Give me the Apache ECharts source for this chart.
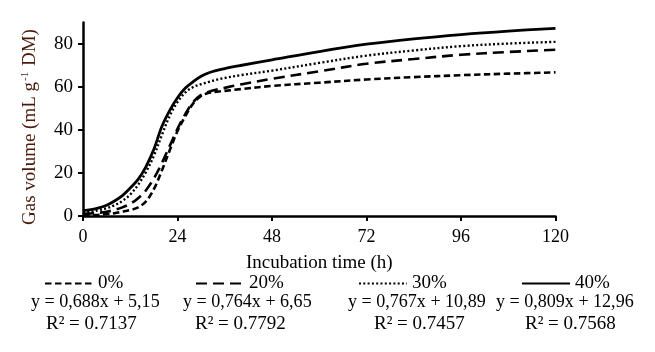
<!DOCTYPE html>
<html>
<head>
<meta charset="utf-8">
<script src="https://cdn.jsdelivr.net/npm/echarts@6/dist/echarts.min.js"></script>
<style>
  html, body { margin: 0; padding: 0; background: #fff; }
  #chart { width: 655px; height: 352px; }
</style>
</head>
<body>
<div id="chart"></div>
<script>
// incubation hours
var hours = [0, 2, 4, 6, 8, 10, 12, 14, 16, 18, 20, 22, 24, 26, 28, 30, 32, 34, 36, 40, 48, 60, 72, 84, 96, 108, 120];
// gas volume, mL g-1 DM
var gas0 = [0.3, 0.4, 0.6, 0.9, 1.3, 2, 2.8, 4, 6.8, 12.5, 21, 30.5, 39.5, 46.5, 52.4, 55.8, 57.3, 57.8, 58.2, 59, 60.5, 62, 63.5, 64.6, 65.5, 66.2, 66.8];
var gas20 = [1, 1.2, 1.5, 2, 2.8, 4, 5.7, 8.3, 12, 17.5, 24.5, 32.5, 40.5, 47.5, 53, 56.3, 57.8, 58.8, 59.6, 61.2, 63.8, 67.3, 70.8, 73, 75, 76.3, 77.3];
var gas30 = [1.5, 2, 2.7, 3.6, 5, 7, 10, 14.5, 20.5, 28, 37.5, 46.5, 53, 57.5, 60, 61.3, 62.4, 63.4, 64.2, 65.5, 67.6, 71.2, 74.6, 77, 79, 80.2, 81];
var gas40 = [2.5, 3, 3.8, 5, 7, 9.5, 13, 17, 23, 31, 41.5, 49, 55, 59.5, 62.5, 65, 66.6, 67.7, 68.6, 70, 72.6, 76.5, 79.9, 82.4, 84.4, 86, 87.3];

var names = ['0%', '20%', '30%', '40%'];
var equations = ['y = 0,688x + 5,15', 'y = 0,764x + 6,65', 'y = 0,767x + 10,89', 'y = 0,809x + 12,96'];
var rsquared = ['R² = 0.7137', 'R² = 0.7792', 'R² = 0.7457', 'R² = 0.7568'];
var yTicks = [0, 20, 40, 60, 80];

var font = '"Liberation Serif", "Times New Roman", serif';

function pairs(arr) {
    return hours.map(function (h, i) { return [h, arr[i]]; });
}

var chart = echarts.init(document.getElementById('chart'));

var lineStyles = [
    { color: '#000', width: 2.6, type: [6.5, 3.5] },
    { color: '#000', width: 2.6, type: [11, 6] },
    { color: '#000', width: 2.4, type: [2, 2.3] },
    { color: '#000', width: 2.8, type: 'solid' }
];
var seriesData = [gas0, gas20, gas30, gas40];

var legendLeft = [44, 195, 358, 521];
var eqLeft = [31, 183, 348, 496];
var rLeft = [46, 195, 374, 525];

var legends = names.map(function (n, i) {
    return {
        data: [n],
        left: legendLeft[i],
        top: 274,
        itemWidth: 48,
        itemHeight: 16,
        padding: 0,
        itemStyle: { opacity: 0 },
        textStyle: { fontFamily: font, fontSize: 19, color: '#000' }
    };
});

var graphics = [];
for (var i = 0; i < 4; i++) {
    graphics.push({
        type: 'text', x: eqLeft[i], y: 302, scaleX: 0.95,
        style: { text: equations[i], font: '19px ' + font, fill: '#000', verticalAlign: 'middle' }
    });
    graphics.push({
        type: 'text', x: rLeft[i], y: 324,
        style: { text: rsquared[i], font: '19px ' + font, fill: '#000', verticalAlign: 'middle' }
    });
}
// y axis title
graphics.push({
    type: 'text', x: 30, y: 127, rotation: Math.PI / 2,
    style: {
        text: '{n|Gas volume (mL g}{s|-1}{n| DM)}',
        align: 'center', verticalAlign: 'middle',
        rich: {
            n: { fontFamily: font, fontSize: 19, fill: '#4a1a0c' },
            s: { fontFamily: font, fontSize: 11, fill: '#4a1a0c', verticalAlign: 'top', padding: [0, 1, 9, 1] }
        }
    }
});

var option = {
    animation: false,
    backgroundColor: '#fff',
    grid: {
        left: 83,
        right: 99.5,
        top: 22.5,
        bottom: 136
    },
    legend: legends,
    graphic: graphics,
    xAxis: {
        type: 'value',
        min: 0,
        max: 120,
        interval: 24,
        name: 'Incubation time (h)',
        nameLocation: 'middle',
        nameGap: 38,
        nameTextStyle: { fontFamily: font, fontSize: 19, color: '#000' },
        splitLine: { show: false },
        axisLine: { show: true, lineStyle: { color: '#000', width: 2.5 } },
        axisTick: { show: true, length: 5, lineStyle: { color: '#000', width: 2 } },
        axisLabel: { fontFamily: font, fontSize: 18, color: '#000', margin: 12 }
    },
    yAxis: {
        type: 'value',
        min: 0,
        max: 90,
        interval: 20,
        splitLine: { show: false },
        axisLine: { show: true, lineStyle: { color: '#000', width: 2.5 } },
        axisTick: { show: true, length: 5, customValues: yTicks, lineStyle: { color: '#000', width: 2 } },
        axisLabel: { fontFamily: font, fontSize: 19, color: '#000', margin: 10, customValues: yTicks }
    },
    series: seriesData.map(function (d, i) {
        return {
            type: 'line',
            name: names[i],
            data: pairs(d),
            smooth: 0.35,
            symbol: 'none',
            showSymbol: false,
            lineStyle: lineStyles[i],
            itemStyle: { color: '#000', opacity: 0 },
            z: 10 - i
        };
    })
};

chart.setOption(option);
</script>
</body>
</html>
